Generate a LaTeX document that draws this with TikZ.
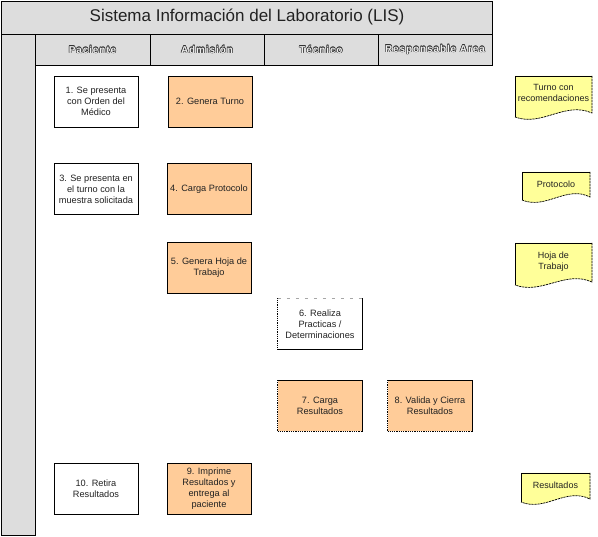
\documentclass[tikz,border=0pt]{standalone}
\usepackage{fontspec}
\setmainfont{Liberation Sans}
\newfontfamily\headfont{Liberation Sans}[LetterSpace=9]

\definecolor{lanegray}{HTML}{DDDDDD}
\definecolor{stepfill}{HTML}{FFCC99}
\definecolor{docfill}{HTML}{FFFF99}
\definecolor{ink}{HTML}{222222}
\definecolor{headedge}{HTML}{333333}
\definecolor{headface}{HTML}{EEEEEE}

\tikzset{
  frame/.style={draw=black, line width=0.8pt, fill=lanegray},
  boxtext/.style={minimum width=84pt, minimum height=51pt, align=center,
    font=\fontsize{9.2}{11}\selectfont, text=ink, inner sep=1pt},
  actor/.style={boxtext, draw=black, line width=0.8pt, fill=white},
  task/.style={boxtext, draw=black, line width=0.8pt, fill=stepfill},
  opentask/.style={boxtext, fill=stepfill},
  openactor/.style={boxtext, fill=white},
  solidedge/.style={draw=black, line width=0.8pt},
  dotedge/.style={draw=black, line width=0.9pt, dash pattern=on 1pt off 0.8pt},
  faintedge/.style={draw=black!35, line width=0.5pt, dash pattern=on 3pt off 6pt},
  headtext/.style={font=\headfont\bfseries\fontsize{10}{12}\selectfont, inner sep=0pt},
  doctext/.style={font=\fontsize{9}{11}\selectfont, text=ink, align=center, inner sep=0pt},
  docline/.style={draw=black, line width=0.7pt},
  docwave/.style={draw=black, line width=0.7pt, dash pattern=on 2.2pt off 0.8pt},
}

% lane header with outlined lettering
\newcommand{\lanehead}[3]{%
  \foreach \dx/\dy in {0.5/0,-0.5/0,0/0.5,0/-0.5,0.35/0.35,-0.35/0.35,0.35/-0.35,-0.35/-0.35}
    \node[headtext, text=headedge, xshift=\dx pt, yshift=\dy pt] at (#2,49.5) {#3};
  \node[headtext, text=headface] (#1) at (#2,49.5) {#3};
}

% document sheet: name, x0, ytop, x1, y bottom-left, y bottom-right, y text, text
\newcommand{\docsheet}[8]{%
  \fill[docfill] (#2,#3) -- (#4,#3) -- (#4,#6)
    .. controls ({#4-0.35*(#4-#2)},{#6-12}) and ({#2+0.35*(#4-#2)},{#5+10}) .. (#2,#5) -- cycle;
  \draw[docline] (#2,#5) -- (#2,#3) -- (#4,#3);
  \draw[docwave] (#4,#3) -- (#4,#6)
    .. controls ({#4-0.35*(#4-#2)},{#6-12}) and ({#2+0.35*(#4-#2)},{#5+10}) .. (#2,#5);
  \node[doctext] (#1) at ({(#2+#4)/2},#7) {#8};
}

\begin{document}
\begin{tikzpicture}[x=1pt,y=-1pt]
\useasboundingbox (0,0) rectangle (598,537);

% swimlane frame
\draw[frame] (1.5,1.5) rectangle (492,34);
\node[font=\fontsize{17}{20}\selectfont, text=ink] (title) at (247,17.5)
  {Sistema Información del Laboratorio (LIS)};
\draw[frame] (1.5,34) rectangle (35,535);
\draw[frame] (35,34) rectangle (150,65);
\draw[frame] (150,34) rectangle (264,65);
\draw[frame] (264,34) rectangle (378,65);
\draw[frame] (378,34) rectangle (492,65);

\lanehead{hpac}{92.5}{Paciente}
\lanehead{hadm}{207}{Admisión}
\lanehead{htec}{321}{Técnico}
\lanehead{hres}{435}{Responsable Area}

% process steps
\node[actor] (s1) at (96,101.5) {1. Se presenta\\con Orden del\\Médico};
\node[task]  (s2) at (210,101.5) {2. Genera Turno};
\node[actor] (s3) at (96,189) {3. Se presenta en\\el turno con la\\muestra solicitada};
\node[task]  (s4) at (209,189) {4. Carga Protocolo};
\node[task]  (s5) at (209,268) {5. Genera Hoja de\\Trabajo};
\node[openactor] (s6) at (320,324) {6. Realiza\\Practicas /\\Determinaciones};
\node[opentask]  (s7) at (320,406) {7. Carga\\Resultados};
\node[opentask]  (s8) at (430,406) {8. Valida y Cierra\\Resultados};
\node[task]  (s9) at (209,489) {9. Imprime\\Resultados y\\entrega al\\paciente};
\node[actor] (s10) at (96,489) {10. Retira\\Resultados};

% borders of the partly dotted steps
\draw[solidedge] (s6.north east) -- (s6.south east) -- (s6.south west);
\draw[dotedge] (s6.south west) -- (s6.north west);
\draw[faintedge] (s6.north west) -- (s6.north east);
\draw[solidedge] (s7.north west) -- (s7.north east) -- (s7.south east);
\draw[dotedge] (s7.south east) -- (s7.south west) -- (s7.north west);
\draw[solidedge] (s8.north west) -- (s8.north east) -- (s8.south east);
\draw[dotedge] (s8.south east) -- (s8.south west) -- (s8.north west);

% output documents
\docsheet{d1}{515}{76}{592}{117}{113}{93}{Turno con\\recomendaciones}
\docsheet{d2}{522}{172}{590}{200}{197}{184.5}{Protocolo}
\docsheet{d3}{515}{243}{592}{285}{282}{262}{Hoja de\\Trabajo}
\docsheet{d4}{521}{473}{590}{502}{499}{485.5}{Resultados}
\end{tikzpicture}
\end{document}
